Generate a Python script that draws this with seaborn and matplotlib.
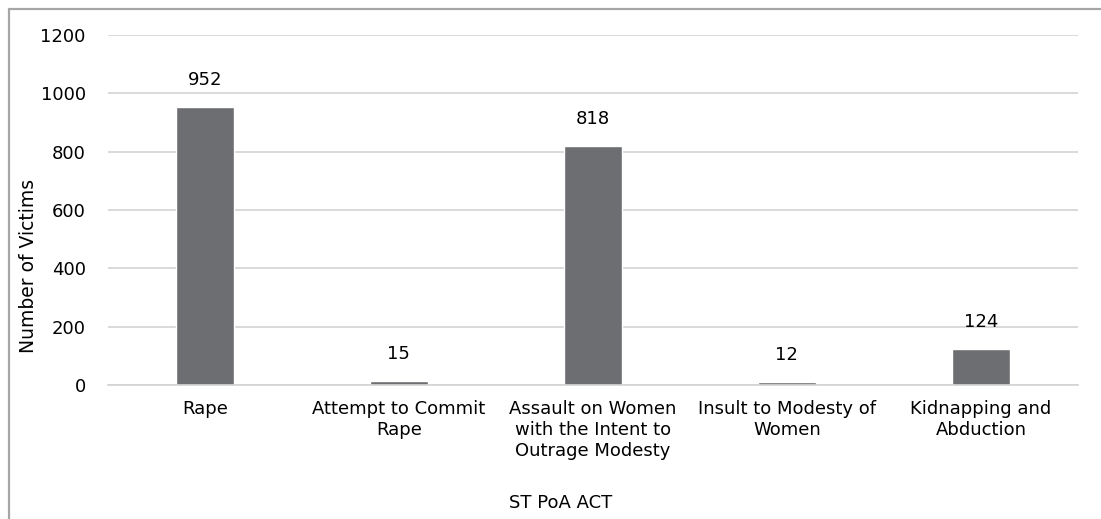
import numpy as np
import pandas as pd
import matplotlib.pyplot as plt
import seaborn as sns
from matplotlib.lines import Line2D

sns.set_theme(style='white')
plt.rcParams['font.family'] = ['DejaVu Sans']
plt.rcParams['text.color'] = 'black'

# Chart data
categories = [
    'Rape',
    'Attempt to Commit\nRape',
    'Assault on Women\nwith the Intent to\nOutrage Modesty',
    'Insult to Modesty of\nWomen',
    'Kidnapping and\nAbduction',
]
victims = [952, 15, 818, 12, 124]
y_ticks = [0, 200, 400, 600, 800, 1000, 1200]

df = pd.DataFrame({'category': categories, 'victims': victims})

fig = plt.figure(figsize=(11.01, 5.19), dpi=100)
ax = fig.add_axes([0.098, 0.258, 0.881, 0.675])

sns.barplot(data=df, x='category', y='victims', color='#6d6e71',
            saturation=1, width=0.3, ax=ax)

ax.set_ylim(0, 1200)
ax.set_yticks(y_ticks)
ax.yaxis.grid(True, color='#d3d3d3', linewidth=1.2)
ax.set_axisbelow(True)
for side in ['top', 'right', 'left']:
    ax.spines[side].set_visible(False)
ax.spines['bottom'].set_color('#d3d3d3')
ax.spines['bottom'].set_linewidth(1.2)
ax.tick_params(axis='both', length=0, labelsize=13, colors='black')
ax.tick_params(axis='y', pad=16)
ax.tick_params(axis='x', pad=11)
for lbl in ax.get_xticklabels():
    lbl.set_linespacing(1.2)

ax.bar_label(ax.containers[0], padding=13, fontsize=13, color='black')

ax.set_ylabel('Number of Victims', fontsize=13.5, color='black')
ax.set_xlabel('ST PoA ACT', fontsize=13, color='black')
ax.yaxis.set_label_coords(-0.072, 0.34)
ax.xaxis.set_label_coords(0.467, -0.31)

# outer frame (left and top edges)
W, H = 1101, 519
fig.add_artist(Line2D([8.5 / W, 8.5 / W], [0, 1 - 8.5 / H], color='#a6a6a6', linewidth=1.6))
fig.add_artist(Line2D([8.5 / W, 1], [1 - 8.5 / H, 1 - 8.5 / H], color='#a6a6a6', linewidth=1.6))

fig.savefig('out.png', dpi=100)
